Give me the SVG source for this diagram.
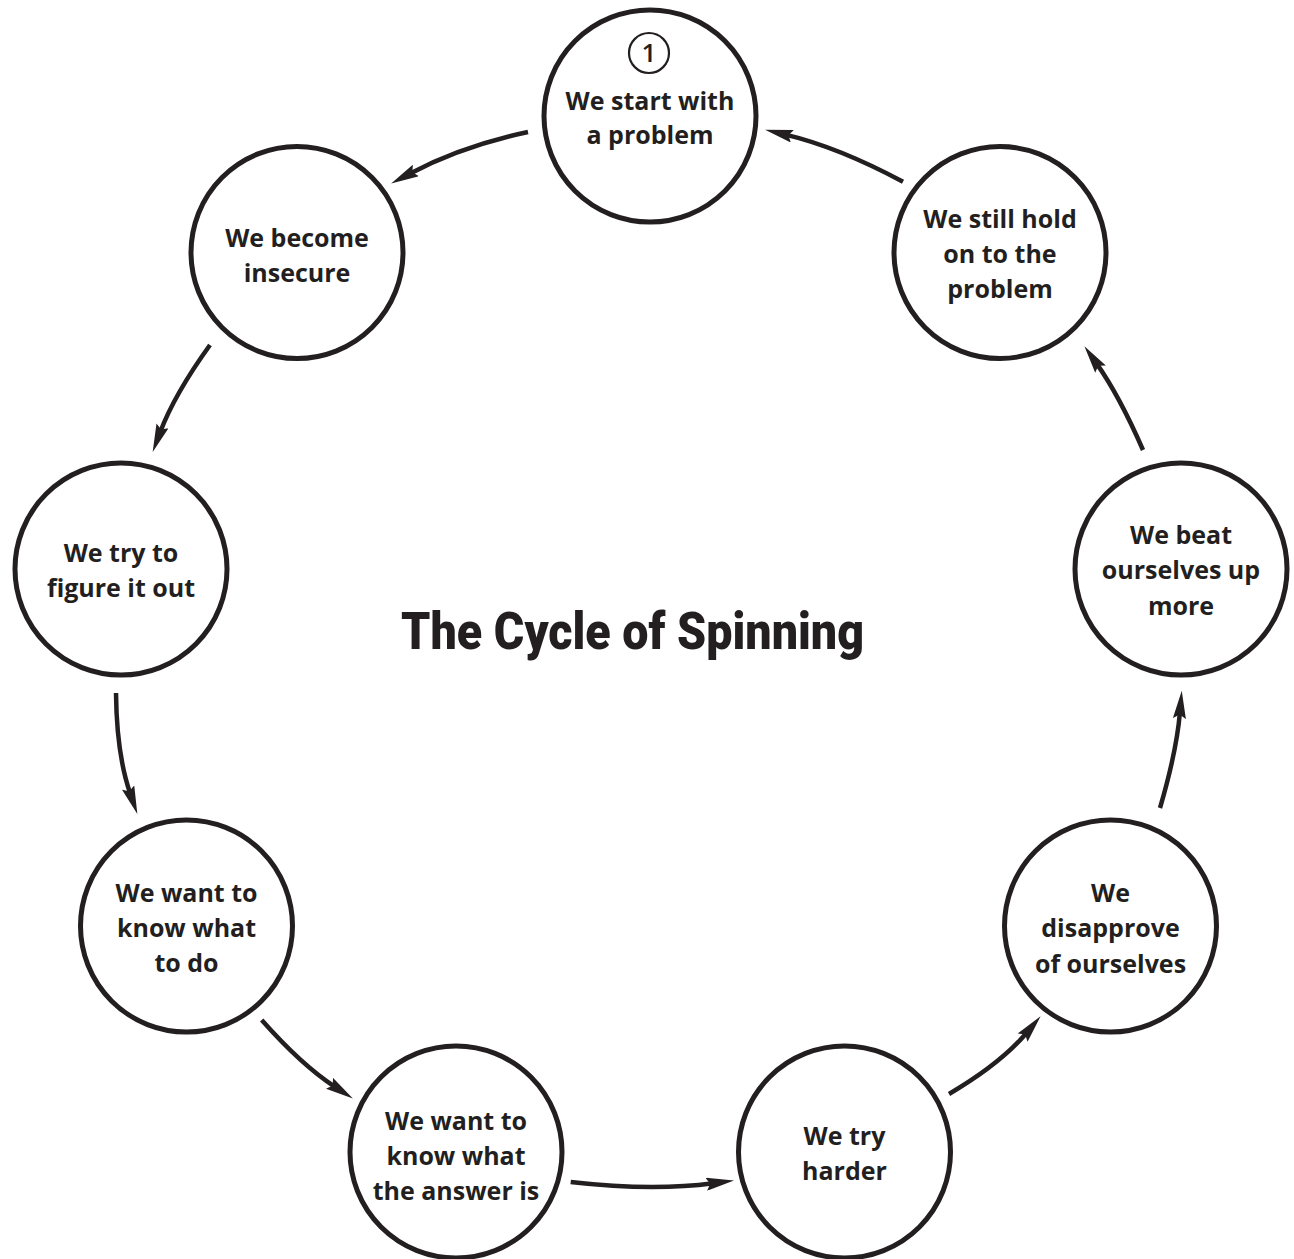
<svg xmlns="http://www.w3.org/2000/svg" width="1294" height="1259" viewBox="0 0 1294 1259">
<style>
.node{fill:#ffffff;stroke:#231f20;stroke-width:5}
.lbl{font-family:"Open Sans","Liberation Sans",sans-serif;font-weight:700;font-size:25px;fill:#231f20;text-anchor:middle}
.con{fill:none;stroke:#231f20;stroke-width:4.5}
.badge{fill:none;stroke:#231f20;stroke-width:2.2}
.num{font-family:"Open Sans","Liberation Sans",sans-serif;font-weight:600;font-size:26px;fill:#231f20;text-anchor:middle}
.title{font-family:Roboto,"Liberation Sans",sans-serif;font-weight:900;font-size:52px;fill:#231f20;text-anchor:middle}
</style>
<defs>
<marker id="ah" viewBox="0 0 28 13" markerWidth="28" markerHeight="13" refX="7" refY="6.5" orient="auto" markerUnits="userSpaceOnUse">
<path d="M0,0 L28,6.5 L0,13 L4,6.5 z" fill="#231f20"/>
</marker>
</defs>
<rect width="1294" height="1259" fill="#ffffff"/>
<g id="connectors">
<path class="con" marker-end="url(#ah)" d="M528,132 Q462,146 409.7,173.7"/>
<path class="con" marker-end="url(#ah)" d="M210,345 Q174.5,394.2 160.1,432.3"/>
<path class="con" marker-end="url(#ah)" d="M116,693 Q116.6,754.7 130.4,794.1"/>
<path class="con" marker-end="url(#ah)" d="M261.7,1020 Q301.6,1065.1 335.3,1087.1"/>
<path class="con" marker-end="url(#ah)" d="M570.7,1182 Q652,1191.4 713.2,1183.3"/>
<path class="con" marker-end="url(#ah)" d="M949,1094 Q1001.1,1063.3 1027.1,1032.3"/>
<path class="con" marker-end="url(#ah)" d="M1160,808 Q1176.7,751.1 1180,711.6"/>
<path class="con" marker-end="url(#ah)" d="M1143,450 Q1119.2,395.6 1096.5,363.4"/>
<path class="con" marker-end="url(#ah)" d="M903,181.7 Q837.9,147 785.5,134.6"/>
</g>
<g id="node1">
<circle class="node" cx="650" cy="116" r="106"/>
<circle class="badge" cx="649" cy="53" r="20"/>
<text class="num" x="649" y="62">1</text>
<text class="lbl" x="650" y="110">We start with</text>
<text class="lbl" x="650" y="144">a problem</text>
</g>
<g id="node2">
<circle class="node" cx="297" cy="252.5" r="106"/>
<text class="lbl" x="297" y="247">We become</text>
<text class="lbl" x="297" y="282">insecure</text>
</g>
<g id="node3">
<circle class="node" cx="121" cy="569" r="106"/>
<text class="lbl" x="121" y="562">We try to</text>
<text class="lbl" x="121" y="597">figure it out</text>
</g>
<g id="node4">
<circle class="node" cx="186.5" cy="926" r="106"/>
<text class="lbl" x="186.5" y="902">We want to</text>
<text class="lbl" x="186.5" y="937">know what</text>
<text class="lbl" x="186.5" y="972">to do</text>
</g>
<g id="node5">
<circle class="node" cx="456" cy="1152" r="106"/>
<text class="lbl" x="456" y="1130">We want to</text>
<text class="lbl" x="456" y="1165">know what</text>
<text class="lbl" x="456" y="1200">the answer is</text>
</g>
<g id="node6">
<circle class="node" cx="844.5" cy="1152" r="106"/>
<text class="lbl" x="844.5" y="1145">We try</text>
<text class="lbl" x="844.5" y="1180">harder</text>
</g>
<g id="node7">
<circle class="node" cx="1110.5" cy="926" r="106"/>
<text class="lbl" x="1110.5" y="902">We</text>
<text class="lbl" x="1110.5" y="937">disapprove</text>
<text class="lbl" x="1110.5" y="973">of ourselves</text>
</g>
<g id="node8">
<circle class="node" cx="1181" cy="569" r="106"/>
<text class="lbl" x="1181" y="544">We beat</text>
<text class="lbl" x="1181" y="579">ourselves up</text>
<text class="lbl" x="1181" y="615">more</text>
</g>
<g id="node9">
<circle class="node" cx="1000" cy="252.5" r="106"/>
<text class="lbl" x="1000" y="228">We still hold</text>
<text class="lbl" x="1000" y="263">on to the</text>
<text class="lbl" x="1000" y="298">problem</text>
</g>
<text class="title" x="632.5" y="649" textLength="463" lengthAdjust="spacingAndGlyphs">The Cycle of Spinning</text>
</svg>
